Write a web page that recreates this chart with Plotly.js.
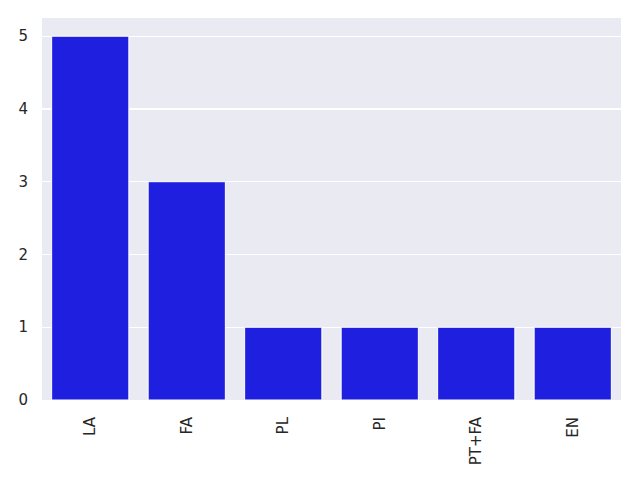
<!DOCTYPE html>
<html>
<head>
<meta charset="utf-8">
<script src="https://cdn.plot.ly/plotly-3.0.1.min.js"></script>
<style>body{margin:0;padding:0;background:#fff;}#chart{width:640px;height:480px;}</style>
</head>
<body>
<div id="chart"></div>
<script>
const categories = ["LA", "FA", "PL", "PI", "PT+FA", "EN"];
const counts = [5, 3, 1, 1, 1, 1];

const trace = {
  type: "bar",
  x: categories,
  y: counts,
  width: 0.8,
  marker: {color: "#1f1fdf", line: {color: "#ffffff", width: 1}},
  hoverinfo: "skip"
};

const layout = {
  width: 640,
  height: 480,
  margin: {l: 42, r: 19, t: 18, b: 80, pad: 0},
  paper_bgcolor: "#ffffff",
  plot_bgcolor: "#eaeaf2",
  font: {family: "DejaVu Sans", size: 15, color: "#262626"},
  showlegend: false,
  bargap: 0.2,
  xaxis: {
    type: "category",
    range: [-0.5, 5.5],
    tickangle: -90,
    showgrid: false,
    zeroline: false,
    showline: false,
    ticks: "outside",
    ticklen: 10,
    tickcolor: "rgba(0,0,0,0)",
    tickfont: {size: 15, color: "#262626"}
  },
  yaxis: {
    range: [0, 5.25],
    tickvals: [0, 1, 2, 3, 4, 5],
    ticktext: ["0", "1", "2", "3", "4", "5"],
    showgrid: true,
    gridcolor: "#ffffff",
    gridwidth: 1.3,
    zeroline: false,
    showline: false,
    ticks: "outside",
    ticklen: 10,
    tickcolor: "rgba(0,0,0,0)",
    tickfont: {size: 15, color: "#262626"}
  }
};

Plotly.newPlot("chart", [trace], layout, {displayModeBar: false, staticPlot: true});
</script>
</body>
</html>
